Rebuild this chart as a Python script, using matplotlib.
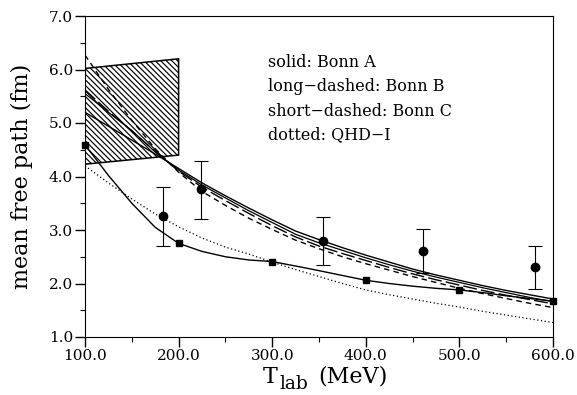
import matplotlib.pyplot as plt
from matplotlib.patches import Polygon
from matplotlib.ticker import MultipleLocator, FormatStrFormatter

SERIF = "DejaVu Serif"

# experimental points (circles with error bars)
exp_t = [183, 224, 354, 461, 581]
exp_mfp = [3.26, 3.77, 2.79, 2.61, 2.30]
exp_lo = [2.70, 3.21, 2.35, 2.20, 1.90]
exp_hi = [3.80, 4.29, 3.25, 3.01, 2.70]

# squares and the solid curve through them
sq_t = [100, 200, 300, 400, 500, 600]
sq_mfp = [4.59, 2.75, 2.41, 2.06, 1.88, 1.67]
sq_curve_t = [100, 115, 125, 150, 175, 200, 225, 250, 275, 300, 330, 350, 375, 400,
              425, 450, 475, 500, 525, 550, 575, 600]
sq_curve_mfp = [4.59, 4.25, 4.02, 3.50, 3.05, 2.75, 2.60, 2.50, 2.44, 2.41, 2.31, 2.24,
                2.15, 2.06, 2.00, 1.95, 1.91, 1.88, 1.83, 1.77, 1.72, 1.67]

# model curves, read every 25 MeV
t_grid = [100, 125, 150, 175, 200, 225, 250, 275, 300, 325, 350,
          375, 400, 425, 450, 475, 500, 525, 550, 575, 600]
bonn_a = [5.20, 4.94, 4.68, 4.42, 4.15, 3.88, 3.64, 3.41, 3.19, 2.98, 2.82,
          2.67, 2.53, 2.40, 2.27, 2.16, 2.06, 1.96, 1.87, 1.79, 1.71]
bonn_a2 = [5.55, 5.20, 4.86, 4.46, 4.12, 3.84, 3.60, 3.36, 3.14, 2.92, 2.76,
           2.62, 2.48, 2.35, 2.23, 2.12, 2.02, 1.92, 1.83, 1.74, 1.66]
bonn_b = [5.62, 5.22, 4.85, 4.47, 4.10, 3.80, 3.55, 3.31, 3.08, 2.87, 2.70,
          2.56, 2.43, 2.30, 2.18, 2.07, 1.97, 1.87, 1.78, 1.70, 1.62]
bonn_c = [6.27, 5.63, 5.05, 4.52, 4.08, 3.72, 3.46, 3.22, 3.01, 2.81, 2.65,
          2.50, 2.37, 2.25, 2.13, 2.02, 1.91, 1.81, 1.72, 1.63, 1.55]
qhd = [4.20, 3.88, 3.58, 3.30, 3.06, 2.85, 2.68, 2.55, 2.40, 2.26, 2.13,
       2.00, 1.88, 1.79, 1.71, 1.63, 1.56, 1.48, 1.41, 1.34, 1.27]

# hatched band
band_t = [100, 200, 200, 100]
band_mfp = [6.02, 6.20, 4.40, 4.23]

legend_lines = ["solid: Bonn A", "long\u2212dashed: Bonn B", "short\u2212dashed: Bonn C",
                "dotted: QHD\u2212I"]

plt.rcParams["hatch.linewidth"] = 0.85
fig = plt.figure(figsize=(5.77, 3.95), dpi=100)
ax = fig.add_axes([85 / 577, 1 - 337 / 395, 468 / 577, 321 / 395])

ax.add_patch(Polygon(list(zip(band_t, band_mfp)), closed=True, facecolor="white",
                     edgecolor="black", hatch="\\\\\\\\\\\\", linewidth=1.1))

ax.plot(t_grid, bonn_a, color="black", linewidth=1.0)
ax.plot(t_grid, bonn_a2, color="black", linewidth=0.9)
ax.plot(t_grid, bonn_b, color="black", linewidth=1.0, dashes=(10, 3))
ax.plot(t_grid, bonn_c, color="black", linewidth=1.0, dashes=(4, 3))
ax.plot(t_grid, qhd, color="black", linewidth=0.9, dashes=(1, 2))
ax.plot(sq_curve_t, sq_curve_mfp, color="black", linewidth=1.0)
ax.plot(sq_t, sq_mfp, "s", color="black", markersize=4, clip_on=False, zorder=5)

yerr = [[m - lo for m, lo in zip(exp_mfp, exp_lo)],
        [hi - m for m, hi in zip(exp_mfp, exp_hi)]]
ax.errorbar(exp_t, exp_mfp, yerr=yerr, fmt="o", color="black", markersize=6,
            elinewidth=0.8, capsize=5, capthick=0.8, zorder=5)

for i, s in enumerate(legend_lines):
    ax.text(0.391, 0.854 - i * 0.075, s, transform=ax.transAxes, family=SERIF,
            fontsize=11.5, va="center")

ax.set_xlim(100, 600)
ax.set_ylim(1.0, 7.0)
ax.xaxis.set_major_locator(MultipleLocator(100))
ax.xaxis.set_minor_locator(MultipleLocator(50))
ax.yaxis.set_major_locator(MultipleLocator(1.0))
ax.yaxis.set_minor_locator(MultipleLocator(0.5))
ax.xaxis.set_major_formatter(FormatStrFormatter("%.1f"))
ax.yaxis.set_major_formatter(FormatStrFormatter("%.1f"))
ax.tick_params(which="both", direction="out", top=False, right=False)
ax.tick_params(which="major", length=7, width=1.0, pad=1.5, labelsize=11)
ax.tick_params(which="minor", length=3.5, width=0.8)
for lab in ax.get_xticklabels() + ax.get_yticklabels():
    lab.set_family(SERIF)

# axis titles
fig.text(263 / 577, 1 - 383 / 395, "T", family=SERIF, fontsize=16, va="baseline")
fig.text(279 / 577, 1 - 389 / 395, "lab", family=SERIF, fontsize=13.5, va="baseline")
fig.text(318 / 577, 1 - 383 / 395, "(MeV)", family=SERIF, fontsize=16, va="baseline")
fig.text(22 / 577, 1 - 176 / 395, "mean free path (fm)", family=SERIF, fontsize=16,
         rotation=90, ha="center", va="center")

fig.savefig("out.png", dpi=100)
